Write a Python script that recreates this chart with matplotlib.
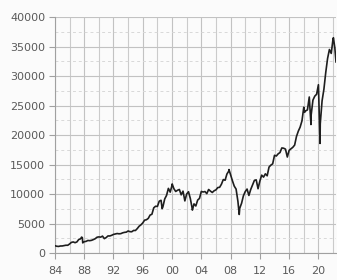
import numpy as np
import matplotlib
matplotlib.use("Agg")
import matplotlib.pyplot as plt
from matplotlib.ticker import MultipleLocator

# Index level at quarter ends, starting 1984 Q1
quarterly = [
    1165, 1132, 1207, 1212,      # 1984
    1267, 1336, 1329, 1547,      # 1985
    1819, 1893, 1768, 1896,      # 1986
    2305, 2419, 2596, 1939,      # 1987
    1989, 2142, 2113, 2169,      # 1988
    2293, 2440, 2693, 2753,      # 1989
    2707, 2881, 2453, 2634,      # 1990
    2914, 2907, 3017, 3169,      # 1991
    3236, 3319, 3272, 3301,      # 1992
    3436, 3516, 3555, 3754,      # 1993
    3636, 3625, 3843, 3834,      # 1994
    4158, 4556, 4789, 5117,      # 1995
    5587, 5655, 5882, 6448,      # 1996
    6584, 7673, 7945, 7908,      # 1997
    8800, 8952, 7843, 9181,      # 1998
    9786, 10971, 10337, 11497,   # 1999
    10922, 10448, 10651, 10787,  # 2000
    9879, 10502, 8848, 10022,    # 2001
    10404, 9243, 7592, 8342,     # 2002
    7992, 8985, 9275, 10454,     # 2003
    10358, 10435, 10080, 10783,  # 2004
    10504, 10275, 10569, 10718,  # 2005
    11109, 11150, 11679, 12463,  # 2006
    12354, 13409, 13896, 13265,  # 2007
    12263, 11350, 10851, 8776,   # 2008
    7609, 8447, 9712, 10428,     # 2009
    10857, 9774, 10788, 11578,   # 2010
    12320, 12414, 10913, 12218,  # 2011
    13212, 12880, 13437, 13104,  # 2012
    14579, 14910, 15130, 16577,  # 2013
    16458, 16827, 17043, 17823,  # 2014
    17776, 17620, 16285, 17425,  # 2015
    17685, 17930, 18308, 19763,  # 2016
    20663, 21350, 22405, 24719,  # 2017
    24103, 24271, 26458, 23327,  # 2018
    25929, 26600, 26917, 28538,  # 2019
    21917, 25813, 27782, 30606,  # 2020
    32982, 34503, 33844, 36338,  # 2021
    34678,                       # 2022
]

# intra-quarter highs / lows that show up as spikes
event_t = [1984.0, 1987.65, 1987.8, 1998.65, 2000.02, 2002.78, 2007.78,
           2009.18, 2018.1, 2018.98, 2020.22, 2022.05, 2022.4]
event_v = [1250, 2720, 1740, 7540, 11720, 7290, 14160,
           6550, 23860, 21790, 18590, 36500, 32400]

ytick_vals = [0, 5000, 10000, 15000, 20000, 25000, 30000, 35000, 40000]
xtick_years = [1984, 1988, 1992, 1996, 2000, 2004, 2008, 2012, 2016, 2020]
xtick_labels = ["84", "88", "92", "96", "00", "04", "08", "12", "16", "20"]

q_t = 1984.25 + 0.25 * np.arange(len(quarterly))
t = np.concatenate([q_t, event_t])
v = np.concatenate([quarterly, event_v])
order = np.argsort(t)
t, v = t[order], v[order]

plt.rcParams['font.family'] = ['DejaVu Sans']
fig = plt.figure(figsize=(3.37, 2.8), dpi=100)
fig.patch.set_facecolor("#fbfbfb")
ax = fig.add_axes([0.163, 0.096, 0.834, 0.843])
ax.set_facecolor("#fbfbfb")

ax.plot(t, v, color="#1e1e1e", lw=1.2, zorder=3)

ax.set_xlim(1984, 2022.4)
ax.set_ylim(0, 40000)
ax.set_xticks(xtick_years)
ax.set_xticklabels(xtick_labels)
ax.set_yticks(ytick_vals)
ax.xaxis.set_minor_locator(MultipleLocator(2))
ax.yaxis.set_minor_locator(MultipleLocator(2500))

ax.grid(which="major", axis="both", color="#c2c2c2", lw=0.8)
ax.grid(which="minor", axis="x", color="#cbcbcb", lw=0.8)
ax.grid(which="minor", axis="y", color="#d8d8d8", lw=0.7, ls=(0, (3, 3)))

ax.tick_params(axis="both", which="major", labelsize=8, colors="#5a5a5a",
               length=4, width=0.8, color="#a0a0a0")
ax.tick_params(axis="x", which="major", pad=5)
ax.tick_params(axis="y", which="major", pad=3)
ax.tick_params(which="minor", length=0)

for side in ["top", "right"]:
    ax.spines[side].set_visible(False)
for side in ["left", "bottom"]:
    ax.spines[side].set_color("#a0a0a0")
    ax.spines[side].set_linewidth(0.8)

fig.savefig("out.png", dpi=100, facecolor=fig.get_facecolor())
